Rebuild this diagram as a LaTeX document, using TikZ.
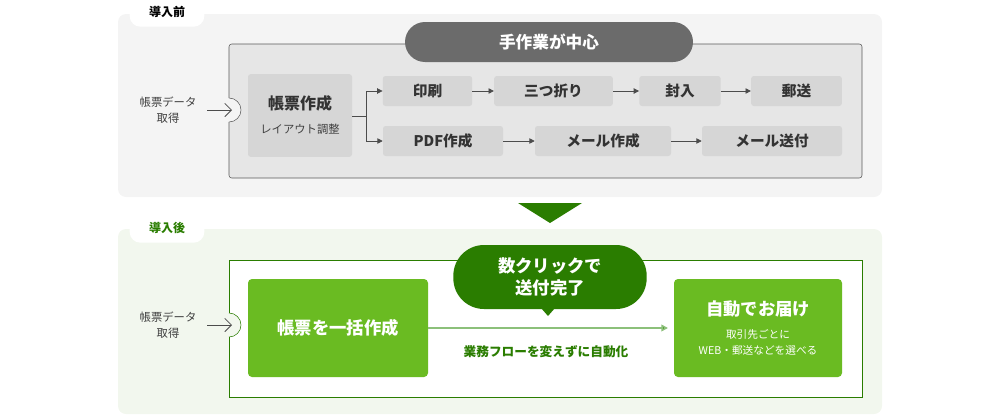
\documentclass[tikz,border=0pt]{standalone}
\usepackage{fontspec}
\setmainfont{Noto Sans CJK JP}
\usetikzlibrary{arrows.meta,positioning}
\definecolor{panelgray}{HTML}{F4F4F4}
\definecolor{innergray}{HTML}{E6E6E6}
\definecolor{boxgray}{HTML}{D6D6D6}
\definecolor{pillgray}{HTML}{6B6B6B}
\definecolor{panelgreen}{HTML}{F2F7EE}
\definecolor{darkgreen}{HTML}{2A7D00}
\definecolor{lightgreen}{HTML}{6ABB22}
\definecolor{linegreen}{HTML}{8CC07A}
\begin{document}
\begin{tikzpicture}[x=0.75pt,y=-0.75pt,
    box/.style={fill=boxgray, rounded corners=2pt, inner sep=0pt},
    task/.style={box, minimum height=22.5pt, font=\fontsize{11}{12}\selectfont\bfseries, text=black!80},
    gbox/.style={fill=lightgreen, rounded corners=3pt, text=white, inner sep=0pt},
    tab/.style={fill=white, rounded corners=8pt, minimum width=56pt, minimum height=22pt, font=\fontsize{9}{10}\selectfont\bfseries},
    side/.style={align=center, font=\fontsize{8.5}{12}\selectfont, text=black!75},
    flow/.style={-{Triangle[length=4pt,width=4pt]}, draw=black!70, line width=0.6pt}]
    \useasboundingbox (0,0) rectangle (1000,418);

    % before
    \fill[panelgray, rounded corners=6pt] (118,14) rectangle (882,197);
    \node[tab] (tab1) at (167,12) {導入前};
    \draw[black!65, fill=innergray, rounded corners=2pt] (229,44) rectangle (862,178);
    \fill[panelgray] (229,110) circle (12);
    \draw[black!65] (229,98) arc[start angle=-90, end angle=90, radius=12];
    \node[fill=pillgray, rounded corners=15pt, minimum width=216pt, minimum height=30pt,
          text=white, font=\fontsize{12.5}{14}\selectfont\bfseries] (hand) at (549,42) {手作業が中心};
    \node[side] (data1) at (168,110) {帳票データ\\取得};
    \node[box, minimum width=78pt, minimum height=62pt] (make1) at (300,115.5) {};
    \node[font=\fontsize{12}{13}\selectfont\bfseries, text=black!80] at (300,103) {帳票作成};
    \node[font=\fontsize{8.5}{10}\selectfont, text=black!75] at (300,129) {レイアウト調整};
    \node[task, minimum width=67pt] (print) at (427.5,91) {印刷};
    \node[task, minimum width=89pt] (fold) at (553.5,91) {三つ折り};
    \node[task, minimum width=61pt] (seal) at (680,91) {封入};
    \node[task, minimum width=68pt] (post) at (796.5,91) {郵送};
    \node[task, minimum width=90pt] (pdf) at (443,141) {PDF作成};
    \node[task, minimum width=102pt] (mail) at (603,141) {メール作成};
    \node[task, minimum width=105pt] (send) at (772,141) {メール送付};
    \coordinate (split) at (366,116);
    \draw[{Straight Barb[length=5pt,width=10pt]}-, black!70, line width=0.6pt] (232,110) -- (207,110);
    \draw[black!70, line width=0.6pt] (make1.east |- split) -- (split);
    \draw[flow] (split) |- (print);
    \draw[flow] (split) |- (pdf);
    \draw[flow] (print) -- (fold);
    \draw[flow] (fold) -- (seal);
    \draw[flow] (seal) -- (post);
    \draw[flow] (pdf) -- (mail);
    \draw[flow] (mail) -- (send);

    % arrow down
    \fill[darkgreen] (518,203) -- (582,203) -- (550,223) -- cycle;

    % after
    \fill[panelgreen, rounded corners=6pt] (118,229) rectangle (882,414);
    \node[tab, text=darkgreen] (tab2) at (167,228) {導入後};
    \draw[darkgreen, fill=white] (229,260) rectangle (862,397);
    \fill[panelgreen] (229,325) circle (12);
    \draw[darkgreen] (229,313) arc[start angle=-90, end angle=90, radius=12];
    \node[side] (data2) at (168,325) {帳票データ\\取得};
    \draw[{Straight Barb[length=5pt,width=10pt]}-, black!70, line width=0.6pt] (232,325) -- (207,325);
    \node[gbox, minimum width=135pt, minimum height=73.5pt, font=\fontsize{13}{14}\selectfont\bfseries] (bulk) at (338,328) {帳票を一括作成};
    \node[gbox, minimum width=126pt, minimum height=73.5pt] (deliver) at (758,328) {};
    \node[text=white, font=\fontsize{13}{14}\selectfont\bfseries] at (758,309) {自動でお届け};
    \node[text=white, align=center, font=\fontsize{8}{12}\selectfont] at (758,342) {取引先ごとに\\WEB・郵送などを選べる};
    \draw[linegreen, line width=1.2pt, -{Triangle[length=5pt,width=5pt,fill=darkgreen]}] (bulk) -- (deliver.west -| 668,328);
    \node[text=darkgreen, font=\fontsize{9.5}{11}\selectfont\bfseries] (auto) at (546,352) {業務フローを変えずに自動化};
    \fill[darkgreen] (541,308) -- (555,308) -- (548,316) -- cycle;
    \node[fill=darkgreen, rounded corners=23pt, minimum width=145pt, minimum height=48pt,
          text=white, align=center, font=\fontsize{13}{17}\selectfont\bfseries] (click) at (550,277) {数クリックで\\送付完了};
\end{tikzpicture}
\end{document}
